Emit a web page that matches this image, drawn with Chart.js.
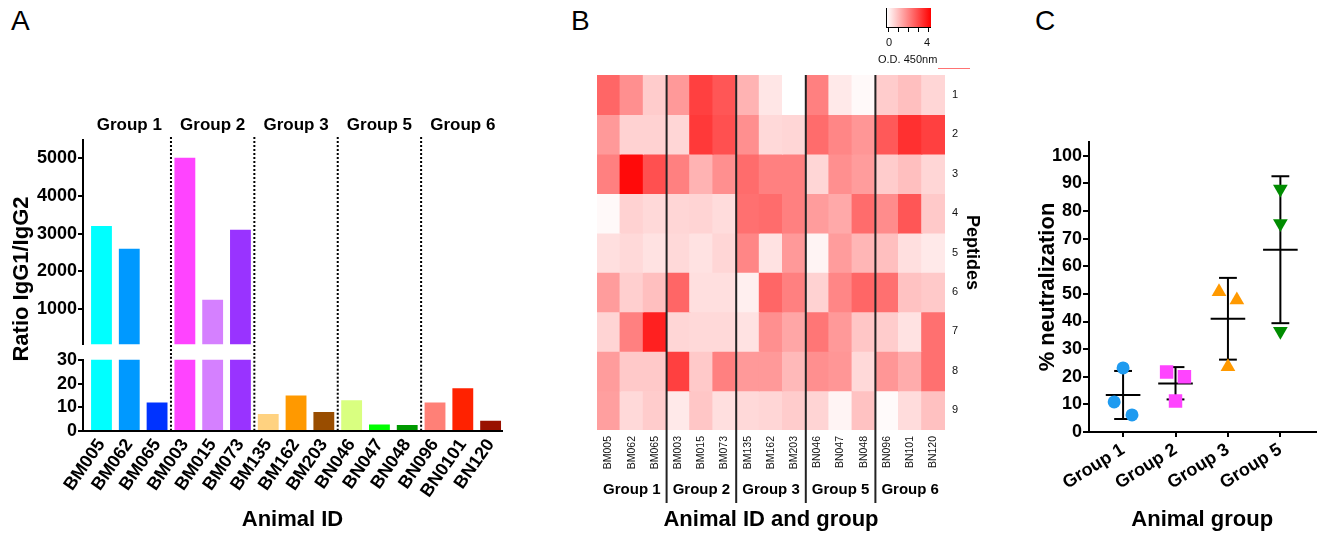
<!DOCTYPE html>
<html lang="en">
<head>
<meta charset="UTF-8" />
<title>IgG1/IgG2 ratio, peptide ELISA and neutralization</title>
<script src="https://cdn.jsdelivr.net/npm/chart.js"></script>
<style>
  body { margin: 0; background: #fff; font-family: "Liberation Sans", Arial, sans-serif; color: #000; }
  #fig { position: relative; width: 1325px; height: 533px; overflow: hidden; }
  #fig canvas, .txt { position: absolute; }
  .letter { font-size: 28px; line-height: 32px; }
  .vtitle { width: 300px; text-align: center; font-size: 22px; font-weight: bold; line-height: 26px; transform: rotate(-90deg); }
  .cbar { position: absolute; background: linear-gradient(to right, #fff, #f00); border-left: 1px solid #000; border-bottom: 1px solid #000; }
  .ctick { position: absolute; width: 1px; height: 4px; background: #000; }
  .small { font-size: 11px; line-height: 13px; color: #111; }
</style>
</head>
<body>
<div id="fig">
  <div class="txt letter" style="left:11px;top:5px;">A</div>
  <div class="txt letter" style="left:571px;top:5px;">B</div>
  <div class="txt letter" style="left:1035px;top:5px;">C</div>

  <canvas id="ratioTop" width="560" height="256" style="left:0;top:100px;"></canvas>
  <canvas id="ratioBottom" width="560" height="185" style="left:0;top:348px;"></canvas>
  <div class="txt vtitle" style="left:-129px;top:266px;">Ratio IgG1/IgG2</div>

  <canvas id="heat" width="440" height="533" style="left:560px;top:0;"></canvas>
  <div class="cbar" style="left:886px;top:8px;width:44px;height:19px;"></div>
  <div class="txt small" style="left:886px;top:36px;">0</div>
  <div class="txt small" style="left:924px;top:36px;">4</div>
  <div class="txt small" style="left:878px;top:53px;">O.D. 450nm</div>
  <div class="txt" style="left:938px;top:68px;width:32px;height:1px;background:#ff7373;"></div>

  <canvas id="neut" width="325" height="413" style="left:1000px;top:120px;"></canvas>
</div>

<script>
  // ---- panel A: IgG1/IgG2 ratio per animal ----
  const animalIds = ['BM005', 'BM062', 'BM065', 'BM003', 'BM015', 'BM073', 'BM135', 'BM162', 'BM203',
                     'BN046', 'BN047', 'BN048', 'BN096', 'BN0101', 'BN120'];
  const ratioValues = [3200, 2600, 12, 5000, 1250, 3100, 7.2, 15, 8, 13, 2.7, 2.5, 12, 18, 4.3];
  const groupOf = [0, 0, 0, 1, 1, 1, 2, 2, 2, 3, 3, 3, 4, 4, 4];
  const groupNames = ['Group 1', 'Group 2', 'Group 3', 'Group 5', 'Group 6'];
  const upperTicks = [1000, 2000, 3000, 4000, 5000];
  const lowerTicks = [0, 10, 20, 30];
  const barColors = ['#00ffff', '#0099ff', '#0033ff', '#ff44ff', '#d580ff', '#9933ff', '#ffd280', '#ff9900',
                     '#994d00', '#d9ff80', '#00ff00', '#009900', '#ff8077', '#ff2200', '#991100'];

  // ---- panel B: O.D. 450nm per peptide (rows) and animal (columns) ----
  const heatIds = ['BM005', 'BM062', 'BM065', 'BM003', 'BM015', 'BM073', 'BM135', 'BM162', 'BM203',
                   'BN046', 'BN047', 'BN048', 'BN096', 'BN101', 'BN120'];
  const peptides = ['1', '2', '3', '4', '5', '6', '7', '8', '9'];
  const pep1 = [2.4, 1.75, 0.8, 1.6, 3.0, 2.65, 1.2, 0.4, 0.0, 2.0, 0.35, 0.1, 0.8, 1.0, 0.65];
  const pep2 = [1.6, 0.7, 0.7, 0.65, 3.1, 2.75, 1.75, 0.6, 0.65, 2.3, 1.9, 1.65, 2.6, 3.25, 3.0];
  const pep3 = [2.0, 3.85, 2.75, 2.0, 1.2, 1.75, 2.3, 2.0, 2.0, 0.65, 1.75, 1.55, 0.8, 1.0, 0.65];
  const pep4 = [0.1, 0.7, 0.6, 0.65, 0.67, 0.55, 2.25, 2.3, 2.0, 1.55, 1.35, 2.3, 1.8, 2.65, 0.85];
  const pep5 = [0.5, 0.6, 0.45, 0.6, 0.45, 0.65, 1.9, 0.45, 1.6, 0.17, 1.55, 1.15, 1.0, 0.5, 0.35];
  const pep6 = [1.55, 0.75, 1.0, 2.4, 0.5, 0.5, 0.25, 2.4, 2.0, 0.7, 1.9, 2.4, 2.25, 0.95, 0.85];
  const pep7 = [0.67, 2.0, 3.5, 0.65, 0.6, 0.6, 0.45, 1.75, 1.4, 2.15, 1.6, 0.9, 0.8, 0.45, 2.25];
  const pep8 = [1.55, 0.85, 0.85, 3.0, 0.85, 2.0, 1.6, 1.6, 1.1, 1.75, 1.65, 0.6, 1.65, 1.3, 2.25];
  const pep9 = [1.5, 0.6, 0.8, 0.35, 0.9, 0.5, 0.6, 0.65, 0.8, 0.67, 0.17, 0.95, 0.08, 0.55, 0.97];
  const odRows = [pep1, pep2, pep3, pep4, pep5, pep6, pep7, pep8, pep9];
  const odMax = 4;
  const odTicks = [0, 1, 2, 3, 4];

  // ---- panel C: % neutralization per group ----
  const neutGroups = ['Group 1', 'Group 2', 'Group 3', 'Group 5'];
  const neutG1 = [23.2, 10.9, 6.2];
  const neutG2 = [21.7, 20.0, 11.2];
  const neutG3 = [50.8, 47.8, 23.6];
  const neutG5 = [88.0, 75.5, 36.5];
  const neutMean = [13.4, 17.6, 41.0, 66.0];
  const neutSdLow = [4.7, 11.8, 26.2, 39.4];
  const neutSdHigh = [22.1, 23.5, 55.8, 92.6];
  const neutTicks = [0, 10, 20, 30, 40, 50, 60, 70, 80, 90, 100];

  const FONT = '"Liberation Sans", Arial, sans-serif';
  Chart.defaults.font.family = FONT;
  Chart.defaults.color = '#000';

  const noLegend = { legend: { display: false }, tooltip: { enabled: false } };
  const xMin = -0.665, xMax = 14.41;
  const groupBreaks = groupOf.slice(0, -1)
    .map((g, i) => (g !== groupOf[i + 1] ? i + 0.5 : null))
    .filter(v => v !== null);

  function vline(ctx, x, y0, y1) {
    ctx.beginPath();
    ctx.moveTo(x, y0);
    ctx.lineTo(x, y1);
    ctx.stroke();
  }

  const upperDecor = {
    id: 'upperDecor',
    afterDatasetsDraw(chart) {
      const { ctx, chartArea, scales: { x } } = chart;
      ctx.save();
      ctx.strokeStyle = '#000';
      ctx.lineWidth = 2;
      ctx.setLineDash([2, 2]);
      groupBreaks.forEach(v => vline(ctx, x.getPixelForValue(v), chartArea.top - 3, chart.height));
      ctx.setLineDash([]);
      ctx.fillStyle = '#000';
      ctx.font = 'bold 17px ' + FONT;
      ctx.textAlign = 'center';
      ctx.textBaseline = 'middle';
      groupNames.forEach((name, gi) => {
        const cols = groupOf.map((g, i) => (g === gi ? i : null)).filter(i => i !== null);
        const cx = cols.reduce((s, i) => s + x.getPixelForValue(i), 0) / cols.length;
        ctx.fillText(name, cx, chartArea.top - 15);
      });
      ctx.restore();
    }
  };

  const lowerDecor = {
    id: 'lowerDecor',
    afterDatasetsDraw(chart) {
      const { ctx, chartArea, scales: { x } } = chart;
      ctx.save();
      ctx.strokeStyle = '#000';
      ctx.lineWidth = 2;
      ctx.setLineDash([2, 2]);
      groupBreaks.forEach(v => vline(ctx, x.getPixelForValue(v), chartArea.top - 3, chartArea.bottom));
      ctx.restore();
    }
  };

  const yAxisA = {
    afterFit: s => { s.width = 83; },
    grid: { drawOnChartArea: false, tickLength: 5, color: '#000', lineWidth: 2 },
    border: { color: '#000', width: 2 },
    ticks: { autoSkip: false, font: { size: 18, weight: 'bold' }, padding: 1, callback: v => String(v) }
  };

  new Chart(document.getElementById('ratioTop'), {
    type: 'bar',
    data: {
      datasets: [{
        data: ratioValues.map((v, i) => ({ x: i, y: v })),
        backgroundColor: barColors,
        barPercentage: 0.75,
        categoryPercentage: 1,
        clip: 0
      }]
    },
    options: {
      responsive: false,
      animation: false,
      layout: { padding: { top: 40, right: 58, bottom: 0 } },
      plugins: noLegend,
      scales: {
        x: { type: 'linear', display: false, min: xMin, max: xMax, offset: false, grid: { offset: false } },
        y: Object.assign({}, yAxisA, {
          min: 80, max: 5470,
          afterBuildTicks: s => { s.ticks = upperTicks.map(v => ({ value: v })); }
        })
      }
    },
    plugins: [upperDecor]
  });

  new Chart(document.getElementById('ratioBottom'), {
    type: 'bar',
    data: {
      datasets: [{
        data: ratioValues.map((v, i) => ({ x: i, y: v })),
        backgroundColor: barColors,
        barPercentage: 0.75,
        categoryPercentage: 1,
        clip: 0
      }]
    },
    options: {
      responsive: false,
      animation: false,
      layout: { padding: { top: 10, right: 58 } },
      plugins: noLegend,
      scales: {
        x: {
          type: 'linear', min: xMin, max: xMax, offset: false,
          afterBuildTicks: s => { s.ticks = animalIds.map((_, i) => ({ value: i })); },
          afterFit: s => { s.height = 102; },
          grid: { display: false, drawTicks: false, offset: false },
          border: { color: '#000', width: 2 },
          ticks: {
            autoSkip: false, minRotation: 55, maxRotation: 55, padding: 4,
            font: { size: 18, weight: 'bold' },
            callback: v => animalIds[v]
          },
          title: { display: true, text: 'Animal ID', font: { size: 22, weight: 'bold' }, padding: 0 }
        },
        y: Object.assign({}, yAxisA, {
          min: 0, max: 30,
          afterBuildTicks: s => { s.ticks = lowerTicks.map(v => ({ value: v })); }
        })
      }
    },
    plugins: [lowerDecor]
  });

  // ---- panel B ----
  function odColor(v) {
    const g = Math.round(255 * (1 - Math.min(v, odMax) / odMax));
    return `rgb(255,${g},${g})`;
  }

  const heatDecor = {
    id: 'heatDecor',
    afterDraw(chart) {
      const { ctx, chartArea, scales: { x } } = chart;
      ctx.save();
      ctx.strokeStyle = '#222';
      ctx.lineWidth = 2;
      groupBreaks.forEach(v => {
        const px = (x.getPixelForValue(v - 0.5) + x.getPixelForValue(v + 0.5)) / 2;
        vline(ctx, px, chartArea.top, 503);
      });
      ctx.fillStyle = '#000';
      ctx.font = 'bold 15px ' + FONT;
      ctx.textAlign = 'center';
      ctx.textBaseline = 'middle';
      groupNames.forEach((name, gi) => {
        const cols = groupOf.map((g, i) => (g === gi ? i : null)).filter(i => i !== null);
        const cx = cols.reduce((s, i) => s + x.getPixelForValue(i), 0) / cols.length;
        ctx.fillText(name, cx, 490);
      });
      ctx.restore();
    }
  };

  new Chart(document.getElementById('heat'), {
    type: 'bar',
    data: {
      labels: heatIds,
      datasets: odRows.map((row, r) => ({
        label: 'Peptide ' + peptides[r],
        data: row.map(() => 1),
        backgroundColor: row.map(odColor),
        borderWidth: 0,
        inflateAmount: 0.6,
        barPercentage: 1,
        categoryPercentage: 1
      }))
    },
    options: {
      responsive: false,
      animation: false,
      layout: { padding: { left: 37, top: 75 } },
      plugins: noLegend,
      scales: {
        x: {
          stacked: true,
          afterFit: s => { s.height = 103; },
          grid: { display: false, drawTicks: false },
          border: { display: false },
          ticks: { autoSkip: false, minRotation: 90, maxRotation: 90, padding: 6, color: '#111', font: { size: 10.5 } },
          title: { display: true, text: 'Animal ID and group', font: { size: 22, weight: 'bold' }, padding: 0 }
        },
        y: {
          stacked: true, position: 'right', reverse: true, min: 0, max: peptides.length,
          afterBuildTicks: s => { s.ticks = peptides.map((_, i) => ({ value: i + 0.5 })); },
          afterFit: s => { s.width = 55; },
          grid: { display: false, drawTicks: false },
          border: { display: false },
          ticks: { padding: 7, color: '#111', font: { size: 11 }, callback: v => peptides[Math.floor(v)] },
          title: { display: true, text: 'Peptides', font: { size: 18, weight: 'bold' }, padding: { top: 17, bottom: 0 } }
        }
      }
    },
    plugins: [heatDecor]
  });

  // colour bar ticks
  const cbarBox = document.querySelector('.cbar');
  const cbarLeft = 888, cbarWidth = 40;
  odTicks.forEach(t => {
    const d = document.createElement('div');
    d.className = 'ctick';
    d.style.left = (cbarLeft + cbarWidth * t / odMax) + 'px';
    d.style.top = (parseFloat(cbarBox.style.top) + 20) + 'px';
    document.getElementById('fig').appendChild(d);
  });

  // ---- panel C ----
  const jitter1 = [0, -0.17, 0.17];
  const jitter2 = [-0.17, 0.17, 0];
  const jitter3 = [-0.17, 0.17, 0];
  const jitter5 = [0, 0, 0];
  const meanHalf = 0.33, capHalf = 0.17;

  const errorBars = {
    id: 'errorBars',
    beforeDatasetsDraw(chart) {
      const { ctx, scales: { x, y } } = chart;
      const seg = (x0, y0, x1, y1) => {
        ctx.beginPath();
        ctx.moveTo(x.getPixelForValue(x0), y.getPixelForValue(y0));
        ctx.lineTo(x.getPixelForValue(x1), y.getPixelForValue(y1));
        ctx.stroke();
      };
      ctx.save();
      ctx.strokeStyle = '#000';
      ctx.lineWidth = 2;
      neutMean.forEach((m, i) => {
        const g = i + 1;
        seg(g, neutSdLow[i], g, neutSdHigh[i]);
        seg(g - capHalf, neutSdLow[i], g + capHalf, neutSdLow[i]);
        seg(g - capHalf, neutSdHigh[i], g + capHalf, neutSdHigh[i]);
        seg(g - meanHalf, m, g + meanHalf, m);
      });
      ctx.restore();
    }
  };

  const pts = (vals, jit, g) => vals.map((v, i) => ({ x: g + jit[i], y: v }));

  new Chart(document.getElementById('neut'), {
    type: 'scatter',
    data: {
      datasets: [
        { data: pts(neutG1, jitter1, 1), pointStyle: 'circle', pointRadius: 6.5, backgroundColor: '#1f9bf0', borderWidth: 0 },
        { data: pts(neutG2, jitter2, 2), pointStyle: 'rect', pointRadius: 9.5, backgroundColor: '#ff44ff', borderWidth: 0 },
        { data: pts(neutG3, jitter3, 3), pointStyle: 'triangle', pointRadius: 8.5, backgroundColor: '#ff9900', borderWidth: 0 },
        { data: pts(neutG5, jitter5, 4), pointStyle: 'triangle', rotation: 180, pointRadius: 8.5, backgroundColor: '#008c00', borderWidth: 0 }
      ]
    },
    options: {
      responsive: false,
      animation: false,
      layout: { padding: { top: 22, right: 4 } },
      plugins: noLegend,
      scales: {
        x: {
          type: 'linear', min: 0.35, max: 4.67,
          afterBuildTicks: s => { s.ticks = neutGroups.map((_, i) => ({ value: i + 1 })); },
          afterFit: s => { s.height = 101; },
          grid: { drawOnChartArea: false, tickLength: 5, color: '#000', lineWidth: 2 },
          border: { color: '#000', width: 2 },
          ticks: {
            autoSkip: false, minRotation: 32, maxRotation: 32, padding: 2,
            font: { size: 18, weight: 'bold' },
            callback: v => neutGroups[v - 1]
          },
          title: { display: true, text: 'Animal group', font: { size: 22, weight: 'bold' }, padding: 0 }
        },
        y: {
          min: 0, max: 105,
          afterBuildTicks: s => { s.ticks = neutTicks.map(v => ({ value: v })); },
          afterFit: s => { s.width = 89; },
          grid: { drawOnChartArea: false, tickLength: 6, color: '#000', lineWidth: 2 },
          border: { color: '#000', width: 2 },
          ticks: { autoSkip: false, font: { size: 18, weight: 'bold' }, padding: 1 },
          title: { display: true, text: '% neutralization', font: { size: 22, weight: 'bold' }, padding: { top: 35, bottom: 0 } }
        }
      }
    },
    plugins: [errorBars]
  });
</script>
</body>
</html>
